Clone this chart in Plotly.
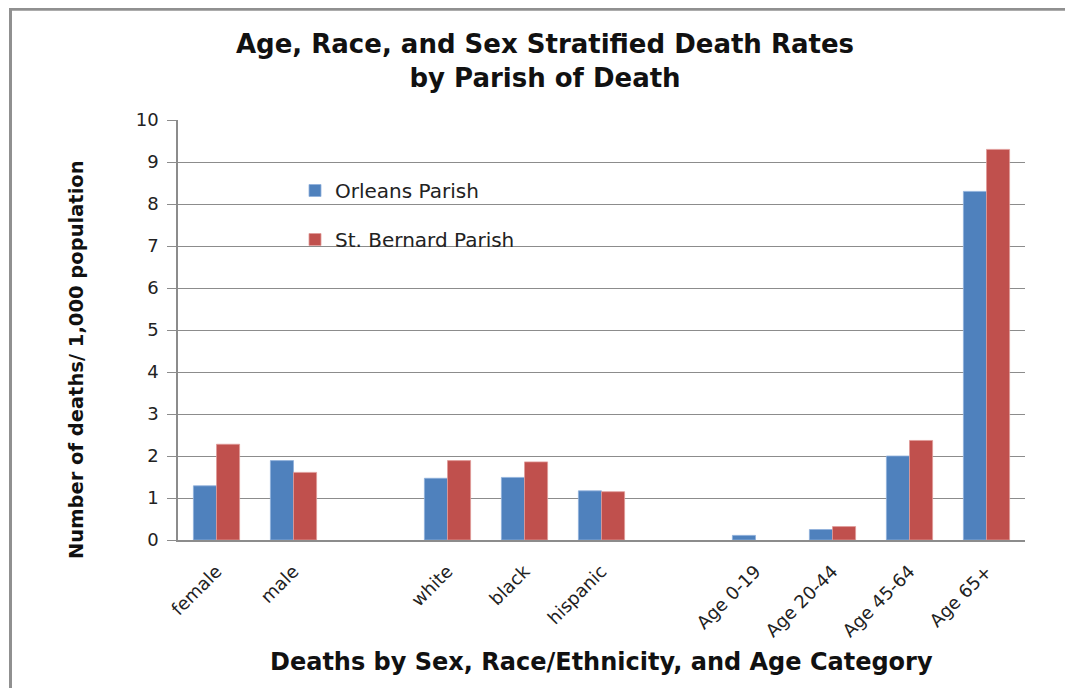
import plotly.graph_objects as go

categories = ["female", "male", " ", "white", "black", "hispanic", "  ",
              "Age 0-19", "Age 20-44", "Age 45-64", "Age 65+"]
orleans = [1.29, 1.89, None, 1.47, 1.49, 1.17, None, 0.11, 0.25, 2.0, 8.3]
st_bernard = [2.28, 1.61, None, 1.89, 1.86, 1.15, None, None, 0.32, 2.37, 9.3]
y_ticks = list(range(0, 11))

OFF = 8  # page body margin
W, H = 1073 - 2 * OFF, 696 - 2 * OFF
# plot area in reference pixel coords
PX0, PX1, PY0, PY1 = 178, 1025, 120, 540
L, T = PX0 - OFF, PY0 - OFF
R, B = W - (PX1 - OFF), H - (PY1 - OFF)
pw, ph = PX1 - PX0, PY1 - PY0

def px(x):
    return (x - PX0) / pw

def py(y):
    return (PY1 - y) / ph

fig = go.Figure()
fig.add_trace(go.Bar(name="Orleans Parish", x=categories, y=orleans,
                     marker=dict(color="#4F81BD", line=dict(color="#8fb0dc", width=0.8)),
                     legendgroup="a"))
fig.add_trace(go.Bar(name="St. Bernard Parish", x=categories, y=st_bernard,
                     marker=dict(color="#C0504D", line=dict(color="#e09a98", width=0.8)),
                     legendgroup="b"))

fig.update_layout(
    width=W, height=H,
    margin=dict(l=L, r=R, t=T, b=B),
    paper_bgcolor="white", plot_bgcolor="white",
    barmode="group", bargap=0.4, bargroupgap=0,
    legend=dict(x=px(295), y=py(171), xanchor="left", yanchor="top",
                bgcolor="rgba(0,0,0,0)", tracegroupgap=20,
                font=dict(family="DejaVu Sans", size=20, color="#222222")),
    font=dict(family="DejaVu Sans", color="#222222"),
    xaxis=dict(type="category", categoryorder="array", categoryarray=categories,
               showline=True, linecolor="#8c8c8c", linewidth=1.5, ticks="",
               tickangle=-45, ticklabelstandoff=12,
               tickfont=dict(family="DejaVu Sans", size=18, color="#222222")),
    yaxis=dict(range=[0, 10], tickvals=y_ticks, showgrid=True, gridcolor="#8c8c8c",
               gridwidth=1, showline=True, linecolor="#8c8c8c", linewidth=1.5,
               ticks="outside", ticklen=9, tickcolor="#8c8c8c", ticklabelstandoff=5,
               tickfont=dict(family="DejaVu Sans", size=18, color="#222222")),
    annotations=[
        dict(text="<b>Age, Race, and Sex Stratified Death Rates<br>by Parish of Death</b>",
             xref="paper", yref="paper", x=px(545), y=py(61),
             xanchor="center", yanchor="middle", showarrow=False,
             font=dict(family="DejaVu Sans", size=26, color="#111111")),
        dict(text="<b>Deaths by Sex, Race/Ethnicity, and Age Category</b>",
             xref="paper", yref="paper", x=px(601), y=py(662),
             xanchor="center", yanchor="middle", showarrow=False,
             font=dict(family="DejaVu Sans", size=24, color="#111111")),
        dict(text="<b>Number of deaths/ 1,000 population</b>",
             xref="paper", yref="paper", x=px(76), y=py(360), textangle=-90,
             xanchor="center", yanchor="middle", showarrow=False,
             font=dict(family="DejaVu Sans", size=19.5, color="#111111")),
    ],
    shapes=[
        dict(type="line", xref="paper", yref="paper", x0=px(10.5), x1=px(10.5),
             y0=py(OFF), y1=py(740), line=dict(color="#909090", width=3)),
        dict(type="line", xref="paper", yref="paper", x0=px(9), x1=px(1100),
             y0=py(OFF + 1.2), y1=py(OFF + 1.2), line=dict(color="#909090", width=3)),
    ],
)

fig.write_html("out.html")
